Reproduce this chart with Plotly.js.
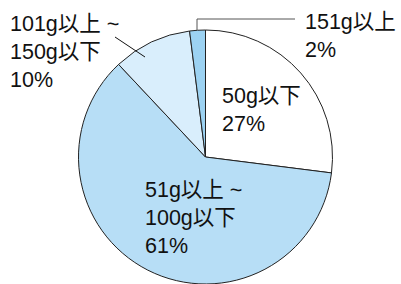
<!DOCTYPE html>
<html>
<head>
<meta charset="utf-8">
<script src="https://cdn.plot.ly/plotly-3.0.1.min.js"></script>
<style>html,body{margin:0;padding:0;background:#fff;}#chart{width:401px;height:284px;}</style>
</head>
<body>
<div id="chart"></div>
<script>
const categories = ["50g以下", "51g以上 ~<br>100g以下", "101g以上 ~<br>150g以下", "151g以上"];
const values = [27, 61, 10, 2];
const percentLabels = ["27%", "61%", "10%", "2%"];
const colors = ["#ffffff", "#b7def6", "#d9eefc", "#9cd2f2"];

const W = 401, H = 284;
const px = x => x / W;
const py = y => 1 - y / H;

const labelPos = [[220, 82], [143, 176], [8, 10], [303, 8]];

const annotations = categories.map((c, i) => ({
  text: c + "<br>" + percentLabels[i],
  xref: "paper", yref: "paper",
  x: px(labelPos[i][0]), y: py(labelPos[i][1]),
  xanchor: "left", yanchor: "top", align: "left",
  showarrow: false,
  font: {size: 21.5, color: "#111111", family: "Arial, 'Liberation Sans', 'Noto Sans CJK JP', sans-serif"}
}));

const shapes = [
  {type: "line", xref: "paper", yref: "paper", x0: px(115), y0: py(37), x1: px(145), y1: py(57), line: {color: "#111", width: 1}},
  {type: "path", xref: "paper", yref: "paper",
   path: `M ${px(197)} ${py(30)} L ${px(197)} ${py(19)} L ${px(295)} ${py(19)}`,
   line: {color: "#555", width: 1}}
];

Plotly.newPlot("chart", [{
  type: "pie",
  labels: categories,
  values: values,
  sort: false,
  direction: "clockwise",
  rotation: 0,
  textinfo: "none",
  hoverinfo: "none",
  marker: {colors: colors, line: {color: "#222222", width: 1}},
  domain: {x: [78 / W, 333 / W], y: [0, 254 / H]}
}], {
  width: W, height: H,
  margin: {l: 0, r: 0, t: 0, b: 0},
  showlegend: false,
  paper_bgcolor: "#ffffff",
  annotations: annotations,
  shapes: shapes
}, {staticPlot: true});
</script>
</body>
</html>
